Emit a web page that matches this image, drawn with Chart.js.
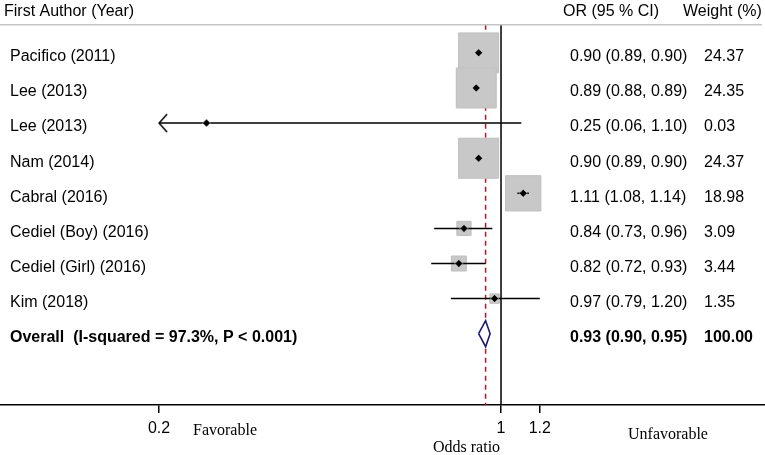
<!DOCTYPE html>
<html lang="en">
<head>
<meta charset="UTF-8" />
<title>Forest plot</title>
<script src="https://cdn.jsdelivr.net/npm/chart.js"></script>
<style>
  html, body { margin: 0; padding: 0; background: #fff; }
  #wrap { width: 765px; height: 455px; }
</style>
</head>
<body>
<div id="wrap"><canvas id="forest"></canvas></div>
<script>
  // study rows
  const studies = ['Pacifico (2011)', 'Lee (2013)', 'Lee (2013)', 'Nam (2014)', 'Cabral (2016)',
                   'Cediel (Boy) (2016)', 'Cediel (Girl) (2016)', 'Kim (2018)'];
  const orValues = [0.90, 0.89, 0.25, 0.90, 1.11, 0.84, 0.82, 0.97];
  const ciLow    = [0.89, 0.88, 0.06, 0.89, 1.08, 0.73, 0.72, 0.79];
  const ciHigh   = [0.90, 0.89, 1.10, 0.90, 1.14, 0.96, 0.93, 1.20];
  const weights  = [24.37, 24.35, 0.03, 24.37, 18.98, 3.09, 3.44, 1.35];

  // pooled estimate
  const overallLabel = 'Overall  (I-squared = 97.3%, P < 0.001)';
  const overallOR = 0.93;
  const overallCI = [0.90, 0.95];
  const overallWeight = 100.00;

  const xTicks = [0.2, 1, 1.2];

  // layout
  const X_MIN = 0.0946, X_MAX = 3.464;
  const Y_MIN = -1.506, Y_MAX = 10.03;
  const HEADER_Y = -0.8;
  const overallRow = studies.length;
  const BOX = 8.1;           // px of square side per sqrt(weight)
  const SANS = 'Arial, "Liberation Sans", sans-serif';
  const SERIF = '"Times New Roman", "Liberation Serif", serif';

  function makeArrowHead() {
    const c = document.createElement('canvas');
    c.width = 20; c.height = 20;
    const g = c.getContext('2d');
    g.strokeStyle = '#000';
    g.lineWidth = 1.5;
    g.beginPath();
    g.moveTo(18, 1); g.lineTo(10, 10); g.lineTo(18, 19);
    g.stroke();
    return c;
  }
  const arrowHead = makeArrowHead();

  const ciSets = studies.map((s, i) => ({
    data: [{ x: Math.max(ciLow[i], xTicks[0]), y: i }, { x: ciHigh[i], y: i }],
    showLine: true, pointRadius: 0, borderColor: '#000', borderWidth: 1.5, order: 2
  }));

  const arrowRows = studies.map((s, i) => i).filter(i => ciLow[i] < xTicks[0]);

  const datasets = [
    { // point estimates
      data: studies.map((s, i) => ({ x: orValues[i], y: i })),
      pointStyle: 'rectRot', pointRadius: 4, backgroundColor: '#000', borderColor: '#fff',
      borderWidth: 0.5, order: 1
    },
    { // overall diamond
      data: [
        { x: overallCI[0], y: overallRow }, { x: overallOR, y: overallRow - 0.37 },
        { x: overallCI[1], y: overallRow }, { x: overallOR, y: overallRow + 0.37 },
        { x: overallCI[0], y: overallRow }
      ],
      showLine: true, pointRadius: 0, borderColor: '#1a1a6e', borderWidth: 1.6,
      backgroundColor: '#fff', fill: 'shape', tension: 0, order: 1
    },
    ...ciSets,
    { // arrow where CI runs past the axis
      data: arrowRows.map(i => ({ x: xTicks[0], y: i })),
      pointStyle: arrowHead, pointRadius: 10, order: 2
    },
    { // weight squares
      data: studies.map((s, i) => ({ x: orValues[i], y: i })),
      pointStyle: 'rect',
      pointRadius: weights.map(w => BOX * Math.sqrt(w) / Math.SQRT2),
      backgroundColor: '#c8c8c8', borderColor: '#bfbfbf', borderWidth: 1, order: 3
    },
    { // null line
      data: [{ x: 1, y: HEADER_Y }, { x: 1, y: Y_MAX }],
      showLine: true, pointRadius: 0, borderColor: '#000', borderWidth: 1.5, order: 4
    },
    { // pooled estimate line
      data: [{ x: overallOR, y: HEADER_Y }, { x: overallOR, y: Y_MAX }],
      showLine: true, pointRadius: 0, borderColor: '#b2182b', borderWidth: 1.5,
      borderDash: [5, 4], order: 5
    }
  ];

  const textPlugin = {
    id: 'forestText',
    afterDraw(chart) {
      const ctx = chart.ctx;
      const ys = chart.scales.y;
      const area = chart.chartArea;
      const hy = ys.getPixelForValue(HEADER_Y);
      ctx.save();
      // header rule
      ctx.strokeStyle = '#c4c4c4';
      ctx.lineWidth = 1.5;
      ctx.beginPath();
      ctx.moveTo(0, hy); ctx.lineTo(762, hy);
      ctx.stroke();

      ctx.fillStyle = '#000';
      ctx.textBaseline = 'middle';
      ctx.textAlign = 'left';
      ctx.font = '16px ' + SANS;
      ctx.fillText('First Author (Year)', 4, 12);
      ctx.fillText('OR (95 % CI)', 563, 12);
      ctx.fillText('Weight (%)', 683, 12);

      const fmt = v => v.toFixed(2);
      studies.forEach((s, i) => {
        const y = ys.getPixelForValue(i) + 4;
        ctx.fillText(s, 10, y);
        ctx.fillText(fmt(orValues[i]) + ' (' + fmt(ciLow[i]) + ', ' + fmt(ciHigh[i]) + ')', 570, y);
        ctx.fillText(fmt(weights[i]), 704, y);
      });
      ctx.font = 'bold 16px ' + SANS;
      const oy = ys.getPixelForValue(overallRow) + 4;
      ctx.fillText(overallLabel, 10, oy);
      ctx.fillText(fmt(overallOR) + ' (' + fmt(overallCI[0]) + ', ' + fmt(overallCI[1]) + ')', 570, oy);
      ctx.fillText(fmt(overallWeight), 704, oy);

      // axis annotations
      ctx.font = '16px ' + SERIF;
      ctx.fillText('Favorable', 193, area.bottom + 26);
      ctx.fillText('Unfavorable', 628, area.bottom + 30);
      ctx.fillText('Odds ratio', 433, area.bottom + 43);
      ctx.restore();
    }
  };

  new Chart(document.getElementById('forest'), {
    type: 'scatter',
    data: { datasets },
    options: {
      responsive: true,
      maintainAspectRatio: false,
      animation: false,
      layout: { padding: 0, autoPadding: false },
      plugins: { legend: { display: false }, tooltip: { enabled: false } },
      scales: {
        x: {
          type: 'logarithmic',
          min: X_MIN,
          max: X_MAX,
          afterBuildTicks: s => { s.ticks = xTicks.map(v => ({ value: v })); },
          afterFit: s => { s.height = 50; },
          grid: { drawOnChartArea: false, drawTicks: true, tickLength: 8, color: '#000', lineWidth: 1.5 },
          border: { display: true, color: '#000', width: 1.5 },
          ticks: {
            callback: v => String(v),
            font: { family: SANS, size: 16 },
            color: '#000', padding: 6, maxRotation: 0, autoSkip: false
          }
        },
        y: {
          type: 'linear',
          display: false,
          reverse: true,
          min: Y_MIN,
          max: Y_MAX
        }
      }
    },
    plugins: [textPlugin]
  });
</script>
</body>
</html>
